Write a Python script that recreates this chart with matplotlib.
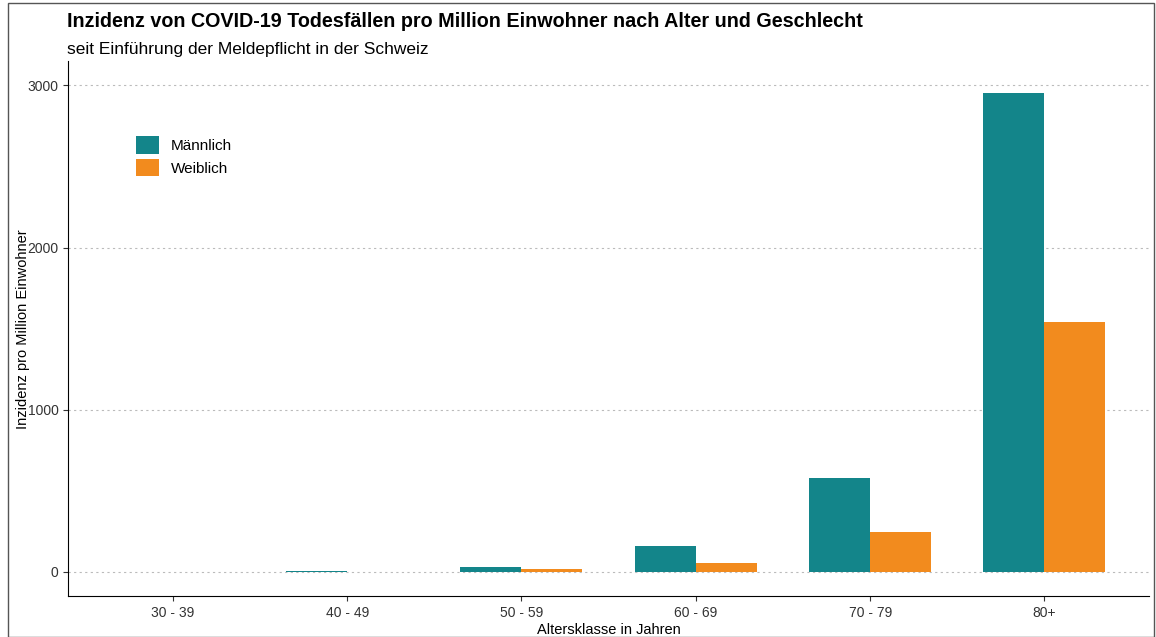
import matplotlib.pyplot as plt
import numpy as np

plt.rcParams['font.family'] = ['Liberation Sans', 'DejaVu Sans']

alter = ['30 - 39', '40 - 49', '50 - 59', '60 - 69', '70 - 79', '80+']
maennlich = [2, 3, 30, 160, 577, 2951]
weiblich = [1, 0, 18, 55, 245, 1540]

fig = plt.figure(figsize=(11.56, 6.37), dpi=100)
ax = fig.add_axes([0.059, 0.064, 0.935, 0.84])

x = np.arange(len(alter))
w = 0.35
ax.bar(x - w / 2, maennlich, w, color='#13858a', label='Männlich')
ax.bar(x + w / 2, weiblich, w, color='#f28b1e', label='Weiblich')

ax.set_xlim(-0.6, 5.6)
ax.set_ylim(-150, 3150)
ax.set_yticks([0, 1000, 2000, 3000])
ax.set_xticks(x)
ax.set_xticklabels(alter)
ax.tick_params(labelsize=10, colors='#333333')
ax.yaxis.grid(True, linestyle=(0, (2, 3)), color='#bbbbbb', linewidth=0.8)
ax.set_axisbelow(True)
for s in ['top', 'right']:
    ax.spines[s].set_visible(False)
ax.set_xlabel('Altersklasse in Jahren', fontsize=10.5, labelpad=2)
ax.set_ylabel('Inzidenz pro Million Einwohner', fontsize=10.5)
ax.yaxis.set_label_coords(-0.035, 0.5)

ax.legend(loc='upper left', bbox_to_anchor=(0.05, 0.885), frameon=False,
          fontsize=11, handlelength=1.5, handleheight=1.4, labelspacing=0.3)

fig.text(0.058, 0.958, 'Inzidenz von COVID-19 Todesfällen pro Million Einwohner nach Alter und Geschlecht',
         fontsize=14.2, fontweight='bold')
fig.text(0.058, 0.915, 'seit Einführung der Meldepflicht in der Schweiz', fontsize=12.5)

fig.patches.append(plt.Rectangle((0.007, 0.0), 0.991, 0.995, transform=fig.transFigure,
                                 fill=False, edgecolor='#555555', linewidth=1))

fig.savefig('out.png')
